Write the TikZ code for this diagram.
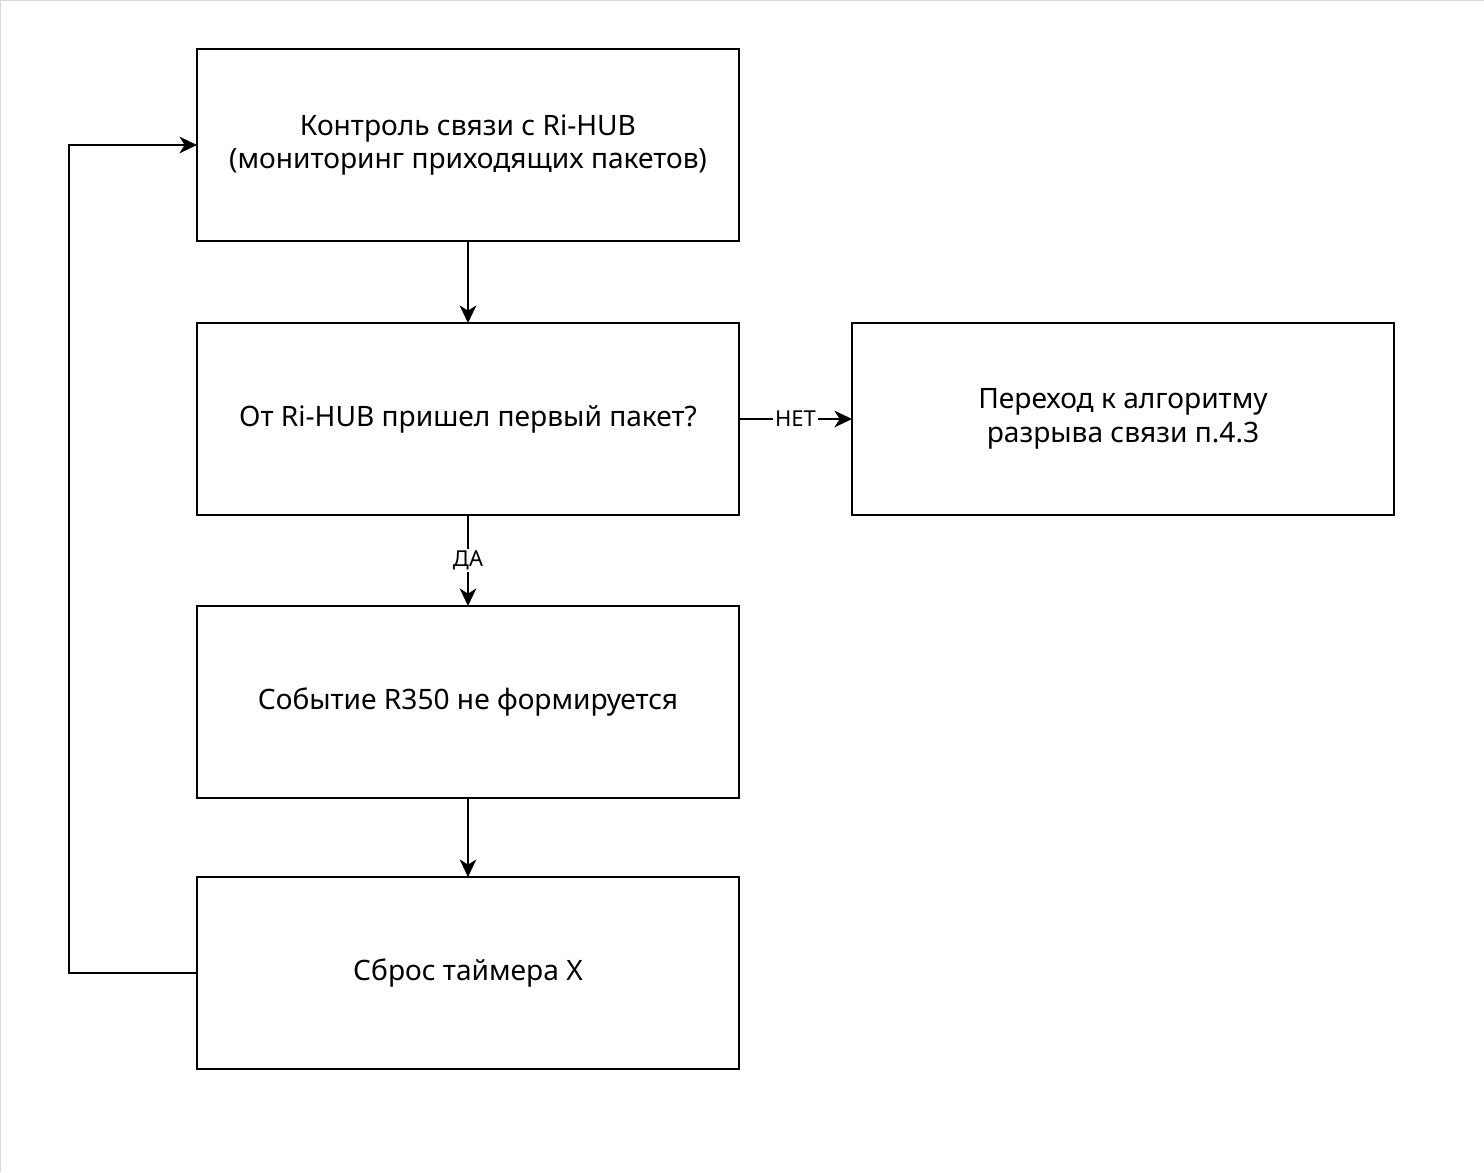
\documentclass[tikz,border=0pt]{standalone}
\usepackage{fontspec}
\setmainfont{Noto Sans}
\usetikzlibrary{positioning,arrows.meta}

\tikzset{
blk/.style={draw, line width=1.1pt, outer sep=0pt, minimum width=10.84cm, minimum height=3.84cm, align=center, font=\fontsize{16}{19}\selectfont},
arr/.style={-{Stealth[length=10pt,width=9.5pt,inset=3pt]}, line width=1.1pt},
lbl/.style={fill=white, inner sep=1pt, font=\fontsize{12.5}{14}\selectfont}
}

\begin{document}
\begin{tikzpicture}
\useasboundingbox (-9.36,2.9) rectangle (20.32,-20.54);
\draw[gray!30, line width=1.5pt] (-9.36,-20.54) -- (-9.36,2.9) -- (20.32,2.9);
\node[blk](b1) at (0,0) {Контроль связи с Ri-HUB\\(мониторинг приходящих пакетов)};
\node[blk, below=1.64cm of b1](b2) {От Ri-HUB пришел первый пакет?};
\node[blk, below=1.82cm of b2](b3) {Событие R350 не формируется};
\node[blk, below=1.58cm of b3](b4) {Сброс таймера X};
\node[blk, right=2.26cm of b2](b5) {Переход к алгоритму\\разрыва связи п.4.3};
\coordinate[left=2.56cm of b4.west](c1);
\draw[arr] (b1) -- (b2);
\draw[arr] (b2) -- node[lbl]{ДА} (b3);
\draw[arr] (b3) -- (b4);
\draw[arr] (b2) -- node[lbl]{НЕТ} (b5);
\draw[arr] (b4.west) -- (c1) |- (b1.west);
\end{tikzpicture}
\end{document}
